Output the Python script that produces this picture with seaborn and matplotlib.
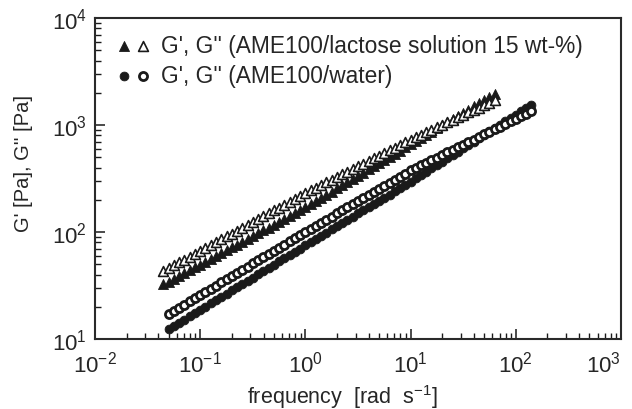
import matplotlib
matplotlib.use("Agg")
import matplotlib.pyplot as plt
import seaborn as sns
from matplotlib.legend_handler import HandlerTuple

# frequency [rad/s] for the lactose solution sweep
freq_lac = [0.0447, 0.0501, 0.0562, 0.0631, 0.0708, 0.0794, 0.0891, 0.100, 0.112, 0.126,
            0.141, 0.158, 0.178, 0.200, 0.224, 0.251, 0.282, 0.316, 0.355, 0.398,
            0.447, 0.501, 0.562, 0.631, 0.708, 0.794, 0.891, 1.00, 1.12, 1.26,
            1.41, 1.58, 1.78, 2.00, 2.24, 2.51, 2.82, 3.16, 3.55, 3.98,
            4.47, 5.01, 5.62, 6.31, 7.08, 7.94, 8.91, 10.0, 11.2, 12.6,
            14.1, 15.8, 17.8, 20.0, 22.4, 25.1, 28.2, 31.6, 35.5, 39.8,
            44.7, 50.1, 56.2, 63.1]
gp_lac = [32.4, 34.4, 36.6, 38.9, 41.3, 43.9, 46.7, 49.5, 52.7, 56.1,
          59.6, 63.4, 67.5, 71.8, 76.2, 81.1, 86.3, 91.8, 97.5, 104,
          110, 117, 125, 133, 141, 150, 160, 170, 182, 195,
          208, 223, 239, 255, 273, 292, 313, 335, 358, 384,
          411, 440, 470, 504, 539, 577, 617, 661, 707, 757,
          810, 867, 928, 993, 1063, 1138, 1218, 1303, 1395, 1493,
          1598, 1710, 1830, 1959]
gpp_lac = [43.2, 45.9, 48.9, 52.0, 55.3, 58.9, 62.7, 66.7, 71.0, 75.5,
           80.4, 85.5, 91.0, 96.8, 103, 110, 117, 124, 132, 141,
           150, 159, 169, 180, 192, 204, 217, 231, 245, 259,
           275, 291, 308, 327, 346, 366, 388, 411, 436, 461,
           489, 518, 548, 581, 615, 652, 690, 731, 771, 813,
           857, 904, 953, 1005, 1059, 1117, 1178, 1242, 1309, 1380,
           1455, 1535, 1618, 1706]

# frequency [rad/s] for the water sweep
freq_wat = [0.0501, 0.0562, 0.0631, 0.0708, 0.0794, 0.0891, 0.100, 0.112, 0.126, 0.141,
            0.158, 0.178, 0.200, 0.224, 0.251, 0.282, 0.316, 0.355, 0.398, 0.447,
            0.501, 0.562, 0.631, 0.708, 0.794, 0.891, 1.00, 1.12, 1.26, 1.41,
            1.58, 1.78, 2.00, 2.24, 2.51, 2.82, 3.16, 3.55, 3.98, 4.47,
            5.01, 5.62, 6.31, 7.08, 7.94, 8.91, 10.0, 11.2, 12.6, 14.1,
            15.8, 17.8, 20.0, 22.4, 25.1, 28.2, 31.6, 35.5, 39.8, 44.7,
            50.1, 56.2, 63.1, 70.8, 79.4, 89.1, 100, 112, 126, 141]
gp_wat = [12.4, 13.3, 14.2, 15.2, 16.4, 17.5, 18.8, 20.1, 21.6, 23.1,
          24.8, 26.5, 28.5, 30.5, 32.7, 35.0, 37.5, 40.2, 43.1, 46.2,
          49.5, 53.1, 56.9, 61.0, 65.3, 70.0, 75.0, 80.3, 86.0, 92.0,
          98.6, 106, 113, 121, 130, 139, 149, 159, 171, 183,
          196, 209, 224, 240, 257, 275, 295, 317, 341, 366,
          394, 424, 455, 489, 525, 565, 607, 652, 701, 753,
          809, 871, 935, 1005, 1079, 1161, 1247, 1340, 1439, 1549]
gpp_wat = [17.2, 18.4, 19.7, 21.0, 22.5, 24.1, 25.8, 27.6, 29.5, 31.6,
           33.8, 36.2, 38.7, 41.5, 44.4, 47.4, 50.8, 54.3, 58.2, 62.2,
           66.7, 71.3, 76.2, 81.7, 87.3, 93.5, 100, 107, 114, 122,
           130, 139, 149, 159, 170, 182, 194, 207, 221, 237,
           253, 270, 288, 308, 329, 352, 376, 397, 420, 444,
           469, 495, 525, 555, 586, 619, 655, 692, 731, 773,
           817, 865, 914, 966, 1021, 1079, 1143, 1208, 1276, 1349]

labels = ["G', G'' (AME100/lactose solution 15 wt-%)", "G', G'' (AME100/water)"]

sns.set_style("ticks")
plt.rcParams['font.family'] = ['Liberation Sans', 'DejaVu Sans']
plt.rcParams['mathtext.fontset'] = 'custom'
plt.rcParams['mathtext.rm'] = 'Liberation Sans'
plt.rcParams['mathtext.it'] = 'Liberation Sans:italic'
plt.rcParams['mathtext.bf'] = 'Liberation Sans:bold'
plt.rcParams['axes.unicode_minus'] = False

fig = plt.figure(figsize=(6.32, 4.10), dpi=100)
ax = fig.add_axes([0.1503, 0.1707, 0.8323, 0.783])

ink = '#1a1a1a'
# filled = G', open = G''
sns.scatterplot(x=freq_lac, y=gp_lac, marker='^', s=52, color=ink, edgecolor=ink,
                linewidth=0.6, ax=ax)
sns.scatterplot(x=freq_lac, y=gpp_lac, marker='^', s=50, facecolor='white', edgecolor=ink,
                linewidth=1.2, ax=ax)
sns.scatterplot(x=freq_wat, y=gp_wat, marker='o', s=40, color=ink, edgecolor=ink,
                linewidth=0.6, ax=ax)
sns.scatterplot(x=freq_wat, y=gpp_wat, marker='o', s=34, facecolor='white', edgecolor=ink,
                linewidth=2.0, ax=ax)

ax.set_xscale('log')
ax.set_yscale('log')
ax.set_xlim(1e-2, 1e3)
ax.set_ylim(1e1, 1e4)

ax.set_xlabel('frequency  [rad  s$^{-1}$]', fontsize=15.5, labelpad=9)
ax.xaxis.set_label_coords(0.47, -0.135)
ax.set_ylabel("G' [Pa], G'' [Pa]", fontsize=14.5)
ax.yaxis.set_label_coords(-0.118, 0.55)

ax.tick_params(which='both', direction='in', top=False, right=False, color=ink)
ax.tick_params(which='major', length=7, width=1.1, labelsize=16, pad=8)
ax.tick_params(axis='y', which='major', pad=6)
ax.tick_params(which='minor', length=4, width=1.0)
for sp in ax.spines.values():
    sp.set_linewidth(1.5)
    sp.set_color('#2a2a2a')

# the 10^3 label would run past the figure edge, pull it in
fig.canvas.draw()
for t in ax.get_xticklabels():
    if '{3}' in t.get_text():
        t.set_horizontalalignment('right')

c = ax.collections
handles = [(c[0], c[1]), (c[2], c[3])]
ax.legend(handles, labels, handler_map={tuple: HandlerTuple(ndivide=None, pad=0.3)},
          loc='upper left', bbox_to_anchor=(0.012, 1.0), frameon=False, fontsize=16.4,
          handlelength=1.4, handletextpad=0.5, labelspacing=0.33, borderaxespad=0.3)

fig.savefig('out.png', dpi=100)
